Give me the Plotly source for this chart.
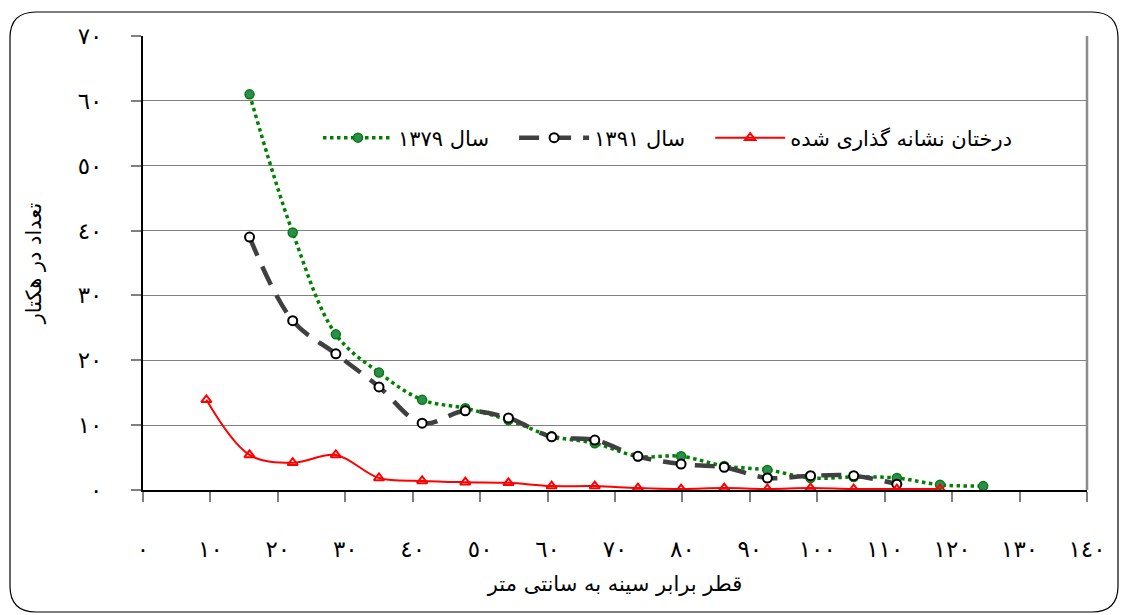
import plotly.graph_objects as go

# Diameter classes (cm) and stem counts per hectare
dbh_marked = [9.4, 15.8, 22.2, 28.6, 35.0, 41.4, 47.8, 54.2, 60.6, 67.0, 73.4, 79.8,
              86.2, 92.6, 99.0, 105.4, 111.8, 118.2]
marked = [13.9, 5.4, 4.2, 5.4, 1.85, 1.4, 1.2, 1.1, 0.6, 0.6, 0.3, 0.15,
          0.3, 0.15, 0.3, 0.15, 0.15, 0.15]

dbh_1391 = [15.8, 22.2, 28.6, 35.0, 41.4, 47.8, 54.2, 60.6, 67.0, 73.4, 79.8,
            86.2, 92.6, 99.0, 105.4, 111.8]
year_1391 = [39.0, 26.1, 21.0, 15.9, 10.3, 12.2, 11.1, 8.2, 7.7, 5.2, 4.0,
             3.5, 1.85, 2.2, 2.2, 0.9]

dbh_1379 = [15.8, 22.2, 28.6, 35.0, 41.4, 47.8, 54.2, 60.6, 67.0, 73.4, 79.8,
            86.2, 92.6, 99.0, 105.4, 111.8, 118.2, 124.6]
year_1379 = [61.0, 39.7, 24.0, 18.1, 13.9, 12.6, 10.8, 8.3, 7.2, 5.2, 5.2,
             3.7, 3.1, 1.85, 2.0, 1.85, 0.8, 0.6]

x_ticks = list(range(0, 141, 10))
y_ticks = list(range(0, 71, 10))
ar_digits = str.maketrans("0123456789", "٠١٢٣٤٥٦٧٨٩")
x_ticktext = [str(v).translate(ar_digits) for v in x_ticks]
y_ticktext = [str(v).translate(ar_digits) for v in y_ticks]

name_1379 = "سال ۱۳۷۹"
name_1391 = "سال ۱۳۹۱"
name_marked = "درختان نشانه گذاری شده"

FONT = "DejaVu Sans"
PAD = "\u00a0" * 3  # extra room after the short legend labels

fig = go.Figure()
fig.add_trace(go.Scatter(
    x=dbh_1379, y=year_1379, name=name_1379 + PAD, mode="lines+markers",
    line=dict(color="#008000", width=3.5, dash="dot", shape="spline"),
    marker=dict(symbol="circle", size=9, color="#2e8b57",
                line=dict(color="#008000", width=1.5)),
))
fig.add_trace(go.Scatter(
    x=dbh_1391, y=year_1391, name=name_1391 + PAD, mode="lines+markers",
    line=dict(color="#404040", width=4.5, dash="20px,12px", shape="spline"),
    marker=dict(symbol="circle", size=9, color="white",
                line=dict(color="black", width=2)),
))
fig.add_trace(go.Scatter(
    x=dbh_marked, y=marked, name=name_marked, mode="lines+markers",
    line=dict(color="#ff0000", width=2, shape="spline"),
    marker=dict(symbol="triangle-up-open", size=9, color="#ff0000",
                line=dict(width=2)),
))

# Plot-area geometry in pixels, used to place the outer frame in paper units
L, R, T, B = 143, 1087, 36, 490
W, H = R - L, B - T


def px(x):
    return (x - L) / W


def py(y):
    return (B - y) / H


x0, x1, y0, y1, r = 10, 1118, 12, 612, 26
frame = (
    f"M {px(x0 + r)} {py(y0)} L {px(x1 - r)} {py(y0)} "
    f"Q {px(x1)} {py(y0)} {px(x1)} {py(y0 + r)} "
    f"L {px(x1)} {py(y1 - r)} Q {px(x1)} {py(y1)} {px(x1 - r)} {py(y1)} "
    f"L {px(x0 + r)} {py(y1)} Q {px(x0)} {py(y1)} {px(x0)} {py(y1 - r)} "
    f"L {px(x0)} {py(y0 + r)} Q {px(x0)} {py(y0)} {px(x0 + r)} {py(y0)} Z"
)

fig.update_layout(
    width=1121, height=615,
    margin=dict(l=L, r=1121 - R, t=T, b=615 - B),
    paper_bgcolor="white", plot_bgcolor="white",
    font=dict(family=FONT, size=20, color="black"),
    showlegend=True,
    legend=dict(
        orientation="h", x=px(318), y=py(138), xanchor="left", yanchor="middle",
        bgcolor="rgba(0,0,0,0)", font=dict(size=21, family=FONT),
        itemwidth=70, traceorder="normal",
    ),
    shapes=[
        dict(type="path", path=frame, xref="paper", yref="paper",
             line=dict(color="black", width=1.2), layer="below"),
        dict(type="line", xref="paper", yref="paper", x0=1, x1=1, y0=0, y1=1,
             line=dict(color="#8c8c8c", width=2.5)),
    ],
)

fig.update_xaxes(
    range=[0, 140], tickvals=x_ticks, ticktext=x_ticktext,
    showgrid=False, zeroline=False,
    showline=True, linecolor="black", linewidth=2,
    ticks="outside", ticklen=10, tickcolor="#808080", tickwidth=1.5,
    ticklabelstandoff=27, tickfont=dict(size=23, family=FONT),
    title=dict(text="قطر برابر سینه به سانتی متر", font=dict(size=21, family=FONT),
               standoff=16),
)
fig.update_yaxes(
    range=[0, 70], tickvals=y_ticks, ticktext=y_ticktext,
    showgrid=True, gridcolor="#808080", gridwidth=1.3, zeroline=False,
    showline=True, linecolor="black", linewidth=2,
    ticks="outside", ticklen=10, tickcolor="#808080", tickwidth=1.5,
    ticklabelstandoff=24, tickfont=dict(size=23, family=FONT),
    title=dict(text="تعداد در هکتار", font=dict(size=21, family=FONT), standoff=30),
)

fig.write_html("out.html")
